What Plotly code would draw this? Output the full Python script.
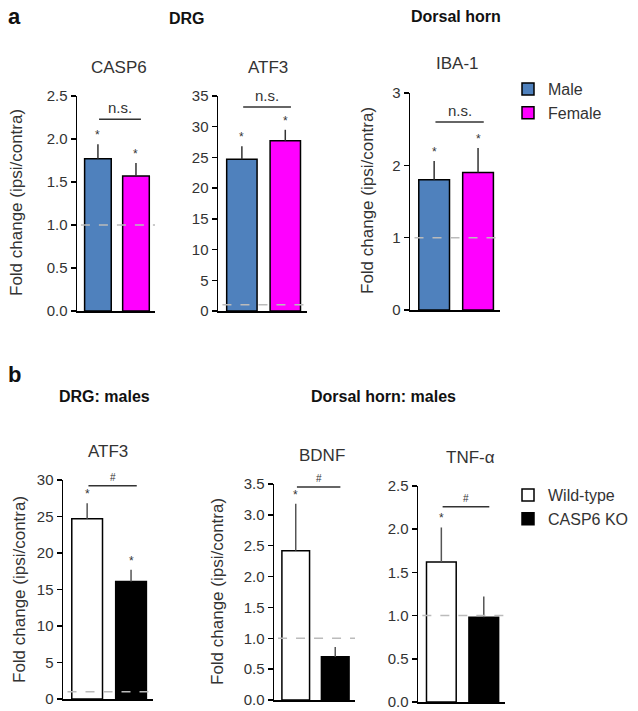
import plotly.graph_objects as go

# ---------------- data ----------------
genes_a = ["CASP6", "ATF3", "IBA-1"]
male_mean = [1.77, 24.7, 1.80]
male_err = [0.17, 2.1, 0.26]
female_mean = [1.57, 27.7, 1.90]
female_err = [0.15, 1.8, 0.34]
male_star = [True, True, True]
female_star = [True, True, True]
bracket_a = [2.23, 33.2, 2.6]
bracket_a_label = ["n.s.", "n.s.", "n.s."]
ymax_a = [2.5, 35, 3]
ytick_a = [0.5, 5, 1]
yfmt_a = [".1f", "d", "d"]

genes_b = ["ATF3", "BDNF", "TNF-\u03b1"]
wt_mean = [24.7, 2.42, 1.62]
wt_err = [2.1, 0.76, 0.40]
ko_mean = [16.1, 0.70, 0.98]
ko_err = [1.6, 0.16, 0.24]
wt_star = [True, True, True]
ko_star = [True, False, False]
bracket_b = [29.2, 3.45, 2.26]
bracket_b_label = ["#", "#", "#"]
ymax_b = [30, 3.5, 2.5]
ytick_b = [5, 0.5, 0.5]
yfmt_b = ["d", ".1f", ".1f"]

baseline = 1.0
groups_a = ["Male", "Female"]
groups_b = ["Wild-type", "CASP6 KO"]

# ---------------- layout geometry (pixels) ----------------
W, H = 638, 711
FONT = "Liberation Sans, Arial, sans-serif"
# (x0, x1, ytop, ybottom, title_center_x)
boxes = [
    (77, 155, 96, 311, 119),
    (218, 307, 96, 311, 268),
    (410, 500, 93, 310, 457),
    (63, 153, 480, 699, 108),
    (274, 355, 484, 700, 322),
    (418, 505, 486, 702, 470),
]

fig = go.Figure()

panels = []
for i in range(3):
    panels.append(dict(
        title=genes_a[i], means=[male_mean[i], female_mean[i]],
        errs=[male_err[i], female_err[i]], stars=[male_star[i], female_star[i]],
        bracket=bracket_a[i], blabel=bracket_a_label[i], ymax=ymax_a[i],
        dtick=ytick_a[i], fmt=yfmt_a[i], names=groups_a,
        fills=["#4F81BD", "#FF00FF"], errcolor="#333333", legend="legend"))
for i in range(3):
    panels.append(dict(
        title=genes_b[i], means=[wt_mean[i], ko_mean[i]],
        errs=[wt_err[i], ko_err[i]], stars=[wt_star[i], ko_star[i]],
        bracket=bracket_b[i], blabel=bracket_b_label[i], ymax=ymax_b[i],
        dtick=ytick_b[i], fmt=yfmt_b[i], names=groups_b,
        fills=["#FFFFFF", "#000000"], errcolor="#555555", legend="legend2"))

annotations = []
shapes = []
layout_axes = {}

for k, p in enumerate(panels):
    n = k + 1
    xs = "" if n == 1 else str(n)
    x0, x1, yt, yb, tx = boxes[k]
    for j in range(2):
        fig.add_trace(go.Bar(
            x=[j], y=[p["means"][j]], width=0.7,
            name=p["names"][j], legendgroup=p["legend"] + p["names"][j],
            showlegend=(k in (0, 3)), legend=p["legend"],
            marker=dict(color=p["fills"][j], line=dict(color="#000000", width=1.5)),
            error_y=dict(type="data", symmetric=False, array=[p["errs"][j]],
                         arrayminus=[0], color=p["errcolor"], thickness=1.5, width=0),
            xaxis="x" + xs, yaxis="y" + xs, hoverinfo="skip"))
        if p["stars"][j]:
            annotations.append(dict(
                x=j, y=p["means"][j] + p["errs"][j], xref="x" + xs, yref="y" + xs,
                text="*", showarrow=False, xanchor="center", yanchor="bottom", yshift=0,
                font=dict(size=12, color="#333333", family=FONT)))
    # baseline dashed
    shapes.append(dict(type="line", xref="x" + xs + " domain", yref="y" + xs,
                       x0=0.05, x1=1.0, y0=baseline, y1=baseline,
                       line=dict(color="#BBBBBB", width=1.5, dash="dash")))
    # bracket
    shapes.append(dict(type="line", xref="x" + xs, yref="y" + xs,
                       x0=0.03, x1=1.13, y0=p["bracket"], y1=p["bracket"],
                       line=dict(color="#333333", width=1.5)))
    annotations.append(dict(
        x=0.58, y=p["bracket"], xref="x" + xs, yref="y" + xs, text=p["blabel"],
        showarrow=False, xanchor="center", yanchor="bottom", yshift=1,
        font=dict(size=15 if p["blabel"] != "#" else 10, color="#333333", family=FONT)))
    # subplot title
    annotations.append(dict(
        x=tx / W, y=1 - (yt - 29) / H, xref="paper", yref="paper",
        text=p["title"], showarrow=False, xanchor="center", yanchor="middle",
        font=dict(size=17, color="#333333", family=FONT)))
    layout_axes["xaxis" + xs] = dict(
        domain=[x0 / W, x1 / W], anchor="y" + xs, range=[-0.55, 1.5],
        showline=True, linecolor="#000000", linewidth=1.5, showticklabels=False,
        ticks="", showgrid=False, zeroline=False, fixedrange=True)
    layout_axes["yaxis" + xs] = dict(
        domain=[1 - yb / H, 1 - yt / H], anchor="x" + xs, range=[0, p["ymax"]],
        dtick=p["dtick"], tick0=0, tickformat=p["fmt"], ticks="outside", ticklen=5,
        tickwidth=1.5, tickcolor="#000000", showline=True, linecolor="#000000",
        linewidth=1.5, showgrid=False, zeroline=False,
        tickfont=dict(size=15, color="#333333", family=FONT))

# y-axis titles
for (xp, yc) in [(16, 203), (367, 200), (19, 590), (217, 592)]:
    annotations.append(dict(
        x=xp / W, y=1 - yc / H, xref="paper", yref="paper",
        text="Fold change (ipsi/contra)", textangle=-90, showarrow=False,
        xanchor="center", yanchor="middle",
        font=dict(size=17, color="#333333", family=FONT)))

# section titles
for (txt, xp, yp, size) in [("a", 14, 17, 22), ("DRG", 187, 19, 16),
                            ("Dorsal horn", 456, 17, 16),
                            ("b", 14, 374, 22), ("DRG: males", 104, 396, 16),
                            ("Dorsal horn: males", 383, 396, 16)]:
    annotations.append(dict(
        x=xp / W, y=1 - yp / H, xref="paper", yref="paper", text="<b>" + txt + "</b>",
        showarrow=False, xanchor="center", yanchor="middle",
        font=dict(size=size, color="#111111", family=FONT)))

fig.update_layout(
    width=W, height=H, margin=dict(l=0, r=0, t=0, b=0, autoexpand=False),
    paper_bgcolor="#FFFFFF", plot_bgcolor="rgba(0,0,0,0)",
    font=dict(family=FONT, color="#333333"),
    barmode="overlay",
    showlegend=True,
    legend=dict(x=508 / W, y=1 - 72 / H, xanchor="left", yanchor="top",
                font=dict(size=16, color="#333333", family=FONT),
                bgcolor="rgba(0,0,0,0)", tracegroupgap=0),
    legend2=dict(x=508 / W, y=1 - 478 / H, xanchor="left", yanchor="top",
                 font=dict(size=16, color="#333333", family=FONT),
                 bgcolor="rgba(0,0,0,0)", tracegroupgap=0),
    annotations=annotations, shapes=shapes,
    **layout_axes)

fig.write_html("out.html", config={"displayModeBar": False, "staticPlot": True},
               post_script="document.body.style.margin='0';document.body.style.overflow='hidden';")
